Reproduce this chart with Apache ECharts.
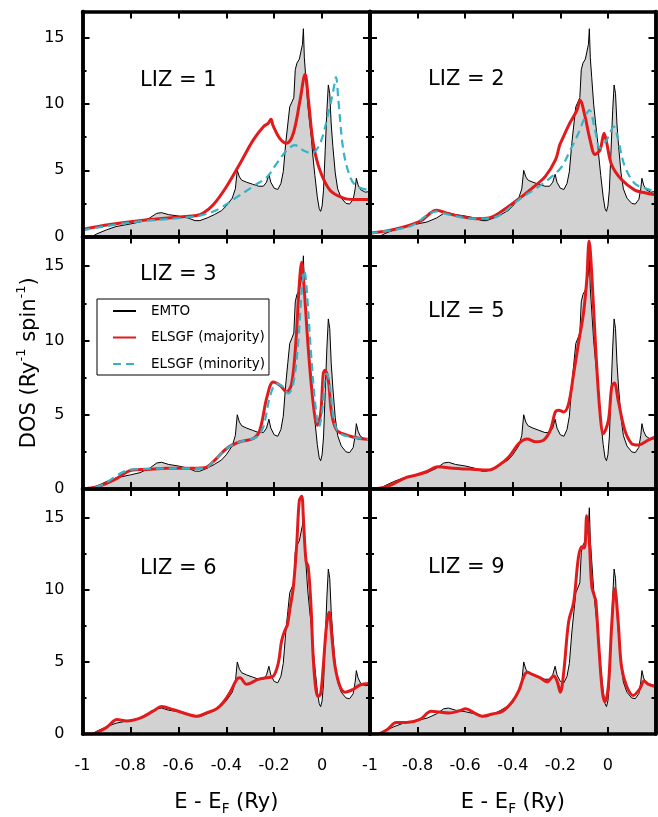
<!DOCTYPE html>
<html>
<head>
<meta charset="utf-8">
<script src="https://cdn.jsdelivr.net/npm/echarts@6/dist/echarts.min.js"></script>
<style>
html,body{margin:0;padding:0;background:#fff;}
#c{width:658px;height:817px;}
</style>
</head>
<body>
<div id="c"></div>
<script>
// ---------------- DATA ----------------
const xTicks = [-1, -0.8, -0.6, -0.4, -0.2, 0, 0.2];
const yTicks = [0, 5, 10, 15];
const lizLabels = ['LIZ = 1', 'LIZ = 2', 'LIZ = 3', 'LIZ = 5', 'LIZ = 6', 'LIZ = 9'];
const seriesNames = ['EMTO', 'ELSGF (majority)', 'ELSGF (minority)'];

// EMTO reference DOS (same in every panel)
const emtoE = [-1.0,-0.96,-0.94,-0.9,-0.86,-0.8,-0.76,-0.72,-0.69,-0.67,-0.64,-0.6,-0.56,-0.53,-0.51,-0.48,-0.45,-0.42,-0.4,-0.375,-0.362,-0.354,-0.345,-0.335,-0.315,-0.29,-0.265,-0.245,-0.232,-0.222,-0.214,-0.2,-0.185,-0.172,-0.162,-0.152,-0.143,-0.135,-0.125,-0.118,-0.112,-0.105,-0.095,-0.087,-0.082,-0.078,-0.074,-0.068,-0.06,-0.052,-0.045,-0.038,-0.03,-0.02,-0.012,-0.006,0.0,0.006,0.013,0.02,0.026,0.032,0.038,0.045,0.055,0.065,0.08,0.1,0.115,0.13,0.138,0.143,0.15,0.16,0.18,0.2];
const emtoDos = [0,0,0.2,0.5,0.75,0.95,1.1,1.4,1.75,1.8,1.65,1.55,1.4,1.2,1.2,1.4,1.65,1.95,2.3,2.9,3.6,5.0,4.5,4.25,4.1,3.95,3.8,3.8,4.1,4.7,4.1,3.65,3.55,4.0,4.9,7.0,8.5,9.8,10.2,10.5,12.6,13.1,13.4,13.3,14.5,15.7,13.5,12.0,10.0,8.6,7.5,6.0,4.6,3.0,2.1,1.9,2.3,3.5,6.5,9.5,11.45,10.8,8.5,6.8,4.8,3.6,2.9,2.5,2.45,2.8,3.6,4.4,3.9,3.55,3.35,3.4];

// LIZ = 1
const liz1MajE = [-1.0,-0.885,-0.718,-0.593,-0.524,-0.496,-0.454,-0.398,-0.343,-0.287,-0.245,-0.225,-0.213,-0.205,-0.176,-0.148,-0.12,-0.092,-0.071,-0.057,-0.037,-0.009,0.033,0.089,0.13,0.2];
const liz1MajDos = [0.53,0.9,1.28,1.48,1.58,1.78,2.4,3.8,5.5,7.3,8.3,8.55,8.85,8.4,7.4,7.05,7.8,10.3,12.25,10.3,7.05,5.0,3.5,2.9,2.8,2.8];
const liz1MinE = [-1.0,-0.79,-0.593,-0.51,-0.44,-0.37,-0.287,-0.23,-0.19,-0.148,-0.113,-0.078,-0.044,-0.009,0.026,0.047,0.058,0.068,0.089,0.117,0.144,0.2];
const liz1MinDos = [0.48,1.08,1.4,1.58,2.0,2.8,3.8,4.5,5.5,6.5,6.9,6.5,6.3,7.0,9.3,11.05,12.05,10.3,6.5,4.5,3.8,3.5];

// LIZ = 2
const liz2MajE = [-1.0,-0.9,-0.79,-0.72,-0.68,-0.624,-0.555,-0.5,-0.457,-0.388,-0.318,-0.263,-0.22,-0.203,-0.193,-0.165,-0.13,-0.117,-0.096,-0.075,-0.054,-0.033,-0.016,-0.005,0.016,0.057,0.113,0.155,0.2];
const liz2MajDos = [0.25,0.53,1.15,1.98,1.78,1.53,1.35,1.4,1.78,2.66,3.66,4.54,5.8,6.9,7.3,8.4,9.55,10.3,9.05,7.3,6.2,6.55,7.8,7.05,5.4,4.3,3.5,3.3,3.15];
const liz2MinE = [-1.0,-0.83,-0.72,-0.68,-0.57,-0.485,-0.444,-0.374,-0.29,-0.235,-0.193,-0.158,-0.124,-0.096,-0.078,-0.054,-0.033,-0.005,0.025,0.043,0.071,0.113,0.155,0.2];
const liz2MinDos = [0.25,0.78,1.9,1.7,1.35,1.4,1.73,2.78,3.78,4.54,5.3,6.54,7.8,9.05,9.55,8.05,6.67,7.3,8.3,7.3,5.3,4.0,3.66,3.4];

// LIZ = 3
const liz3MajE = [-1.0,-0.94,-0.87,-0.79,-0.73,-0.65,-0.565,-0.49,-0.454,-0.398,-0.343,-0.287,-0.26,-0.23,-0.204,-0.176,-0.148,-0.127,-0.109,-0.095,-0.085,-0.076,-0.057,-0.037,-0.02,-0.006,0.005,0.012,0.026,0.04,0.061,0.103,0.158,0.2];
const liz3MajDos = [0.0,0.15,0.6,1.28,1.32,1.39,1.39,1.43,1.84,2.73,3.18,3.4,3.96,6.2,7.2,6.98,6.54,7.1,10.0,13.8,15.27,13.8,9.33,5.75,4.3,5.08,7.77,8.0,7.32,5.08,3.96,3.63,3.4,3.34];
const liz3MinE = [-1.0,-0.93,-0.79,-0.565,-0.49,-0.454,-0.398,-0.343,-0.273,-0.245,-0.218,-0.19,-0.162,-0.141,-0.12,-0.099,-0.085,-0.074,-0.064,-0.047,-0.03,-0.013,0.001,0.012,0.019,0.033,0.047,0.068,0.117,0.2];
const liz3MinDos = [0.0,0.2,1.32,1.39,1.39,1.84,2.73,3.18,3.5,4.2,6.2,7.1,6.87,6.43,7.1,10.0,13.4,14.7,13.4,9.33,5.98,4.19,5.3,7.55,7.77,6.87,4.86,3.85,3.51,3.34];

// LIZ = 5
const liz5MajE = [-1.0,-0.93,-0.847,-0.805,-0.763,-0.715,-0.652,-0.583,-0.5,-0.457,-0.416,-0.374,-0.339,-0.304,-0.27,-0.242,-0.221,-0.207,-0.186,-0.165,-0.144,-0.124,-0.103,-0.089,-0.079,-0.068,-0.051,-0.033,-0.019,0.002,0.016,0.027,0.043,0.071,0.099,0.127,0.169,0.2];
const liz5MajDos = [0.0,0.16,0.78,0.94,1.16,1.5,1.39,1.34,1.28,1.61,2.17,3.07,3.36,3.18,3.29,3.96,5.19,5.3,5.19,5.75,7.77,9.78,11.8,14.04,16.7,14.5,9.34,5.08,3.74,4.63,6.87,7.14,5.98,3.96,3.07,2.96,3.29,3.51];

// LIZ = 6
const liz6MajE = [-1.0,-0.96,-0.94,-0.9,-0.87,-0.857,-0.816,-0.76,-0.704,-0.67,-0.62,-0.565,-0.524,-0.482,-0.44,-0.412,-0.384,-0.356,-0.343,-0.315,-0.294,-0.266,-0.231,-0.204,-0.183,-0.169,-0.155,-0.145,-0.134,-0.12,-0.106,-0.095,-0.085,-0.078,-0.067,-0.058,-0.047,-0.037,-0.026,-0.016,-0.006,0.005,0.019,0.03,0.04,0.054,0.075,0.096,0.13,0.158,0.2];
const liz6MajDos = [0.0,0.0,0.1,0.45,0.9,1.0,0.9,1.1,1.6,1.9,1.68,1.39,1.23,1.46,1.75,2.2,2.9,3.79,3.9,3.45,3.57,3.79,3.9,4.0,4.9,6.45,7.2,7.56,8.7,10.2,13.1,16.2,16.5,14.9,12.0,11.6,9.1,5.3,3.1,2.6,2.8,4.7,7.6,8.45,6.9,4.7,3.3,2.9,3.1,3.4,3.5];

// LIZ = 9
const liz9MajE = [-1.0,-0.97,-0.93,-0.889,-0.847,-0.79,-0.743,-0.708,-0.666,-0.624,-0.597,-0.562,-0.527,-0.485,-0.444,-0.402,-0.374,-0.353,-0.339,-0.318,-0.284,-0.256,-0.228,-0.214,-0.2,-0.186,-0.165,-0.144,-0.124,-0.11,-0.099,-0.089,-0.079,-0.068,-0.057,-0.051,-0.037,-0.023,-0.012,0.002,0.016,0.029,0.043,0.057,0.078,0.106,0.134,0.152,0.169,0.2];
const liz9MajDos = [0.0,0.0,0.28,0.79,0.79,1.01,1.57,1.52,1.46,1.61,1.75,1.46,1.24,1.39,1.57,2.24,3.02,4.02,4.28,4.13,3.9,3.62,4.02,3.68,2.9,4.24,7.8,9.14,12.25,13.0,12.9,15.14,13.6,10.25,9.58,9.25,5.8,2.9,2.24,3.35,7.58,10.1,7.8,4.68,3.35,2.68,3.13,3.68,3.46,3.3];

// ---------------- LAYOUT ----------------
const FONT = '"DejaVu Sans", "Liberation Sans", Arial, sans-serif';
const cols = [{left: 82.5, width: 287.5}, {left: 370, width: 285.5}];
const rows = [{top: 11.5, height: 225}, {top: 236.5, height: 252.5}, {top: 489, height: 254.5}];
const lizPos = [[140, 70], [428, 69], [140, 264], [428, 301], [140, 558], [428, 557]];

const panels = [
  {maj: [liz1MajE, liz1MajDos], min: [liz1MinE, liz1MinDos]},
  {maj: [liz2MajE, liz2MajDos], min: [liz2MinE, liz2MinDos]},
  {maj: [liz3MajE, liz3MajDos], min: [liz3MinE, liz3MinDos]},
  {maj: [liz5MajE, liz5MajDos]},
  {maj: [liz6MajE, liz6MajDos]},
  {maj: [liz9MajE, liz9MajDos]}
];

function zip(a, b) { return a.map((v, i) => [v, b[i]]); }
const BLACK = '#000';
const RED = '#e31a1c';
const CYAN = '#35b3c7';

const grid = [], xAxis = [], yAxis = [], series = [], title = [];

panels.forEach((p, i) => {
  const r = Math.floor(i / 2), c = i % 2;
  grid.push({left: cols[c].left, width: cols[c].width, top: rows[r].top, height: rows[r].height, containLabel: false});
  const axLine = {show: true, onZero: false, lineStyle: {color: BLACK, width: 3.5}};
  const xBase = {
    type: 'value', gridIndex: i, min: xTicks[0], max: xTicks[xTicks.length - 1], interval: 0.2,
    axisLine: axLine, splitLine: {show: false}, z: 10,
    axisTick: {show: true, inside: true, length: 7, lineStyle: {color: BLACK, width: 2}}
  };
  const xb = Object.assign({}, xBase, {
    position: 'bottom',
    axisLabel: {
      show: r === 2, margin: 24, fontSize: 16, color: BLACK, fontFamily: FONT, showMaxLabel: false,
      formatter: v => (Math.abs(v - 0.2) < 1e-6 ? '' : String(Math.round(v * 10) / 10))
    }
  });
  if (r === 2) {
    xb.name = '{a|E - E}{b|F}{a| (Ry)}';
    xb.nameLocation = 'middle';
    xb.nameGap = 56;
    xb.nameTextStyle = {rich: {
      a: {fontSize: 21, fontFamily: FONT, color: BLACK, lineHeight: 26},
      b: {fontSize: 13.5, fontFamily: FONT, color: BLACK, lineHeight: 13, verticalAlign: 'bottom'}
    }};
  }
  xAxis.push(xb);
  xAxis.push(Object.assign({}, xBase, {position: 'top', axisLabel: {show: false}}));

  const yBase = {
    type: 'value', gridIndex: i, min: 0, max: 17, splitLine: {show: false}, z: 10,
    axisLine: axLine
  };
  const yl = Object.assign({}, yBase, {
    position: 'left', interval: 5,
    axisTick: {show: true, inside: true, length: 7, lineStyle: {color: BLACK, width: 2}},
    axisLabel: {
      show: c === 0, margin: 18, fontSize: 16, color: BLACK, fontFamily: FONT, showMaxLabel: false,
      formatter: v => (yTicks.indexOf(v) >= 0 ? String(v) : '')
    }
  });
  if (i === 2) {
    yl.name = '{a|DOS (Ry}{s|-1}{a| spin}{s|-1}{a|)}';
    yl.nameLocation = 'middle';
    yl.nameRotate = 90;
    yl.nameGap = 39;
    yl.nameTextStyle = {rich: {
      a: {fontSize: 21, fontFamily: FONT, color: BLACK, lineHeight: 28},
      s: {fontSize: 13, fontFamily: FONT, color: BLACK, lineHeight: 13, verticalAlign: 'top'}
    }};
  }
  const yIdx = yAxis.length;
  yAxis.push(yl);
  yAxis.push(Object.assign({}, yBase, {position: 'left', interval: 2.5,
    axisTick: {show: true, inside: true, length: 4, lineStyle: {color: BLACK, width: 2}}, axisLabel: {show: false}}));
  yAxis.push(Object.assign({}, yBase, {position: 'right', interval: 5,
    axisTick: {show: true, inside: true, length: 7, lineStyle: {color: BLACK, width: 2}}, axisLabel: {show: false}}));
  yAxis.push(Object.assign({}, yBase, {position: 'right', interval: 2.5,
    axisTick: {show: true, inside: true, length: 4, lineStyle: {color: BLACK, width: 2}}, axisLabel: {show: false}}));

  const xIdx = i * 2;
  series.push({
    name: seriesNames[0], type: 'line', xAxisIndex: xIdx, yAxisIndex: yIdx,
    data: zip(emtoE, emtoDos), symbol: 'none', showSymbol: false, z: 2,
    lineStyle: {color: BLACK, width: 1}, itemStyle: {color: BLACK},
    areaStyle: {color: '#d2d2d2', opacity: 1}
  });
  series.push({
    name: seriesNames[1], type: 'line', xAxisIndex: xIdx, yAxisIndex: yIdx,
    data: zip(p.maj[0], p.maj[1]), symbol: 'none', showSymbol: false, z: 3,
    smooth: 0.35,
    lineStyle: {color: RED, width: 3}, itemStyle: {color: RED}
  });
  if (p.min) {
    series.push({
      name: seriesNames[2], type: 'line', xAxisIndex: xIdx, yAxisIndex: yIdx,
      data: zip(p.min[0], p.min[1]), symbol: 'none', showSymbol: false, z: 4,
      smooth: 0.35,
      lineStyle: {color: CYAN, width: 2.2, type: [8, 5]}, itemStyle: {color: CYAN}
    });
  }
  title.push({
    text: lizLabels[i], left: lizPos[i][0], top: lizPos[i][1], padding: 0,
    textStyle: {fontSize: 21, fontWeight: 'normal', color: BLACK, fontFamily: FONT, lineHeight: 22}
  });
});

const chart = echarts.init(document.getElementById('c'), null, {renderer: 'canvas'});
chart.setOption({
  animation: false,
  backgroundColor: '#fff',
  title: title,
  legend: {
    data: seriesNames, orient: 'vertical', left: 97, top: 299,
    padding: [4, 4, 3, 15], itemWidth: 23, itemHeight: 12, itemGap: 10.5,
    borderColor: BLACK, borderWidth: 1, backgroundColor: '#fff', selectedMode: false,
    itemStyle: {color: 'rgba(0,0,0,0)', borderWidth: 0, opacity: 0},
    textStyle: {fontSize: 13.5, color: BLACK, fontFamily: FONT, padding: [0, 0, 0, 10], lineHeight: 16}
  },
  grid: grid, xAxis: xAxis, yAxis: yAxis, series: series
});
</script>
</body>
</html>
